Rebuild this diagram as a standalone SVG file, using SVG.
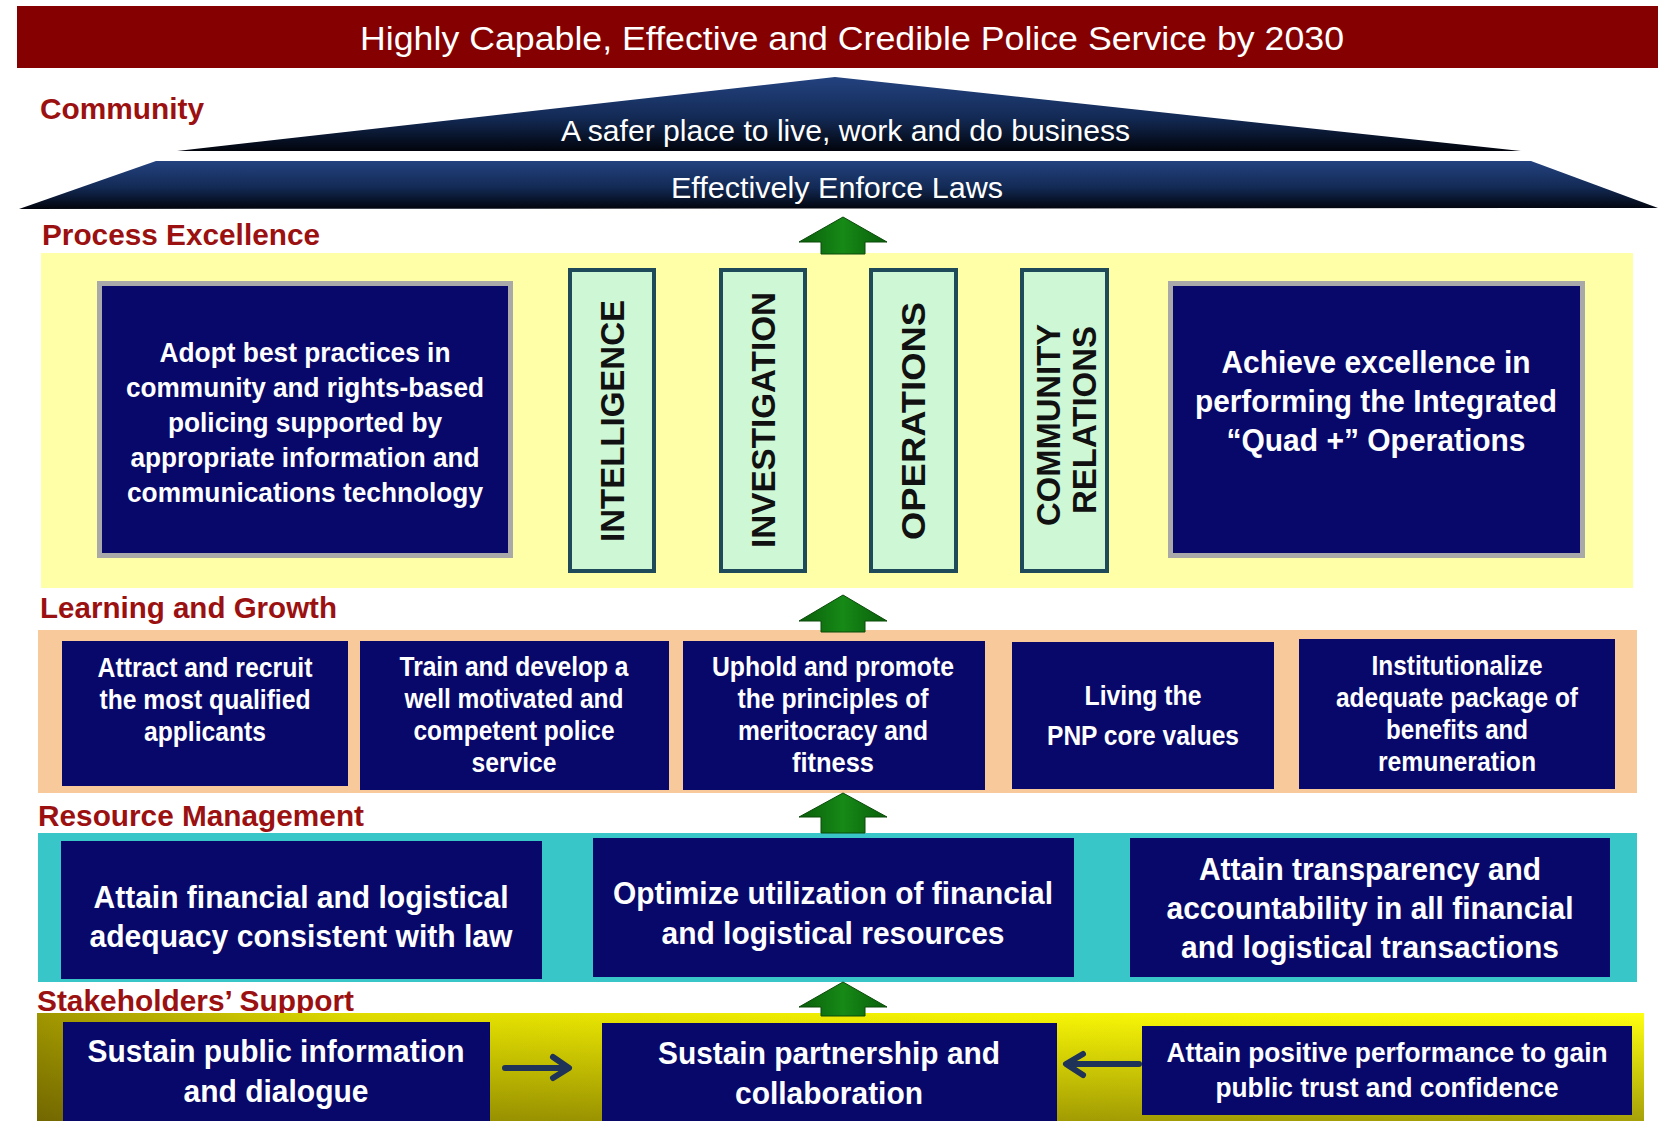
<svg xmlns="http://www.w3.org/2000/svg" width="1658" height="1121" viewBox="0 0 1658 1121">
<defs>
<style>
text{font-family:"Liberation Sans",Arial,sans-serif}
.lbl{font-size:30px;font-weight:bold;fill:#9b1111}
.nv{fill:#08086a}
.wt{fill:#ffffff;font-weight:bold;text-anchor:middle}
.rf{fill:#ffffff;font-size:30px}
.pl{fill:#cdf7d5;stroke:#1e4a5a;stroke-width:4}
.pt{fill:#111111;font-weight:bold;font-size:34px;text-anchor:middle}
.gb{fill:#08086a;stroke:#a9a9a9;stroke-width:5}
.ga{fill:url(#green);stroke:#0a4a0a;stroke-width:1}
.na{stroke:#1f3358;stroke-width:6;fill:none;stroke-linecap:round;stroke-linejoin:round}
</style>
<linearGradient id="roof" x1="0" y1="0" x2="0" y2="1">
<stop offset="0" stop-color="#23427f"/>
<stop offset="0.55" stop-color="#132a55"/>
<stop offset="1" stop-color="#01040c"/>
</linearGradient>
<linearGradient id="green" x1="0" y1="0" x2="1" y2="0">
<stop offset="0" stop-color="#0a5e0a"/>
<stop offset="0.5" stop-color="#168a16"/>
<stop offset="1" stop-color="#0a5e0a"/>
</linearGradient>
<linearGradient id="stkH" x1="0" y1="0" x2="1" y2="0">
<stop offset="0" stop-color="#a09600"/>
<stop offset="0.2" stop-color="#e0dc00"/>
<stop offset="0.6" stop-color="#f6f404"/>
<stop offset="1" stop-color="#ffff10"/>
</linearGradient>
<linearGradient id="stkV" x1="0" y1="0" x2="0" y2="1">
<stop offset="0" stop-color="#3a2e00" stop-opacity="0"/>
<stop offset="1" stop-color="#3a2e00" stop-opacity="0.45"/>
</linearGradient>
</defs>
<rect width="1658" height="1121" fill="#ffffff"/>

<g id="banner">
<rect x="17" y="6" width="1641" height="62" fill="#850000"/>
<text x="852" y="50" fill="#ffffff" font-size="33" text-anchor="middle" textLength="984" lengthAdjust="spacingAndGlyphs">Highly Capable, Effective and Credible Police Service by 2030</text>
</g>

<g id="community">
<text class="lbl" x="40" y="119" textLength="164" lengthAdjust="spacingAndGlyphs">Community</text>
<polygon points="177,151 835,77 1521,151" fill="url(#roof)"/>
<text class="rf" x="561" y="141" textLength="569" lengthAdjust="spacingAndGlyphs">A safer place to live, work and do business</text>
</g>

<g id="enforce">
<polygon points="19,209 156,161 1531,161 1658,208" fill="url(#roof)"/>
<text class="rf" x="671" y="198" textLength="332" lengthAdjust="spacingAndGlyphs">Effectively Enforce Laws</text>
</g>

<g id="process-excellence">
<text class="lbl" x="42" y="245" textLength="278" lengthAdjust="spacingAndGlyphs">Process Excellence</text>
<rect x="41" y="253" width="1592" height="335" fill="#ffffa8"/>
</g>

<g id="adopt-best-practices">
<rect class="gb" x="99.5" y="283.5" width="411" height="272"/>
<text class="wt" font-size="27" x="305" y="362" textLength="291" lengthAdjust="spacingAndGlyphs">Adopt best practices in</text>
<text class="wt" font-size="27" x="305" y="397" textLength="358" lengthAdjust="spacingAndGlyphs">community and rights-based</text>
<text class="wt" font-size="27" x="305" y="432" textLength="274" lengthAdjust="spacingAndGlyphs">policing supported by</text>
<text class="wt" font-size="27" x="305" y="467" textLength="349" lengthAdjust="spacingAndGlyphs">appropriate information and</text>
<text class="wt" font-size="27" x="305" y="502" textLength="356" lengthAdjust="spacingAndGlyphs">communications technology</text>
</g>

<g id="intelligence">
<rect class="pl" x="570" y="270" width="84" height="301"/>
<text class="pt" transform="translate(612,421) rotate(-90)" x="0" y="12" textLength="242" lengthAdjust="spacingAndGlyphs">INTELLIGENCE</text>
</g>
<g id="investigation">
<rect class="pl" x="721" y="270" width="84" height="301"/>
<text class="pt" transform="translate(763,420) rotate(-90)" x="0" y="12" textLength="256" lengthAdjust="spacingAndGlyphs">INVESTIGATION</text>
</g>
<g id="operations">
<rect class="pl" x="871" y="270" width="85" height="301"/>
<text class="pt" transform="translate(913,421) rotate(-90)" x="0" y="12" textLength="238" lengthAdjust="spacingAndGlyphs">OPERATIONS</text>
</g>
<g id="community-relations">
<rect class="pl" x="1022" y="270" width="85" height="301"/>
<text class="pt" transform="translate(1048,425) rotate(-90)" x="0" y="12" textLength="202" lengthAdjust="spacingAndGlyphs">COMMUNITY</text>
<text class="pt" transform="translate(1084,420) rotate(-90)" x="0" y="12" textLength="188" lengthAdjust="spacingAndGlyphs">RELATIONS</text>
</g>

<g id="achieve-excellence">
<rect class="gb" x="1170.5" y="283.5" width="412" height="272"/>
<text class="wt" font-size="32" x="1376" y="373" textLength="309" lengthAdjust="spacingAndGlyphs">Achieve excellence in</text>
<text class="wt" font-size="32" x="1376" y="412" textLength="362" lengthAdjust="spacingAndGlyphs">performing the Integrated</text>
<text class="wt" font-size="32" x="1376" y="451" textLength="299" lengthAdjust="spacingAndGlyphs">“Quad +” Operations</text>
</g>

<g id="learning-growth">
<text class="lbl" x="40" y="618" textLength="297" lengthAdjust="spacingAndGlyphs">Learning and Growth</text>
<rect x="38" y="630" width="1599" height="163" fill="#f8c99a"/>
</g>

<g id="attract-recruit">
<rect class="nv" x="62" y="641" width="286" height="145"/>
<text class="wt" font-size="27" x="205" y="677" textLength="215" lengthAdjust="spacingAndGlyphs">Attract and recruit</text>
<text class="wt" font-size="27" x="205" y="709" textLength="211" lengthAdjust="spacingAndGlyphs">the most qualified</text>
<text class="wt" font-size="27" x="205" y="741" textLength="122" lengthAdjust="spacingAndGlyphs">applicants</text>
</g>
<g id="train-develop">
<rect class="nv" x="360" y="641" width="309" height="149"/>
<text class="wt" font-size="27" x="514" y="676" textLength="229" lengthAdjust="spacingAndGlyphs">Train and develop a</text>
<text class="wt" font-size="27" x="514" y="708" textLength="219" lengthAdjust="spacingAndGlyphs">well motivated and</text>
<text class="wt" font-size="27" x="514" y="740" textLength="201" lengthAdjust="spacingAndGlyphs">competent police</text>
<text class="wt" font-size="27" x="514" y="772" textLength="85" lengthAdjust="spacingAndGlyphs">service</text>
</g>
<g id="uphold-promote">
<rect class="nv" x="683" y="641" width="302" height="149"/>
<text class="wt" font-size="27" x="833" y="676" textLength="242" lengthAdjust="spacingAndGlyphs">Uphold and promote</text>
<text class="wt" font-size="27" x="833" y="708" textLength="191" lengthAdjust="spacingAndGlyphs">the principles of</text>
<text class="wt" font-size="27" x="833" y="740" textLength="190" lengthAdjust="spacingAndGlyphs">meritocracy and</text>
<text class="wt" font-size="27" x="833" y="772" textLength="82" lengthAdjust="spacingAndGlyphs">fitness</text>
</g>
<g id="core-values">
<rect class="nv" x="1012" y="642" width="262" height="147"/>
<text class="wt" font-size="27" x="1143" y="705" textLength="117" lengthAdjust="spacingAndGlyphs">Living the</text>
<text class="wt" font-size="27" x="1143" y="745" textLength="192" lengthAdjust="spacingAndGlyphs">PNP core values</text>
</g>
<g id="benefits">
<rect class="nv" x="1299" y="639" width="316" height="150"/>
<text class="wt" font-size="27" x="1457" y="675" textLength="171" lengthAdjust="spacingAndGlyphs">Institutionalize</text>
<text class="wt" font-size="27" x="1457" y="707" textLength="242" lengthAdjust="spacingAndGlyphs">adequate package of</text>
<text class="wt" font-size="27" x="1457" y="739" textLength="142" lengthAdjust="spacingAndGlyphs">benefits and</text>
<text class="wt" font-size="27" x="1457" y="771" textLength="158" lengthAdjust="spacingAndGlyphs">remuneration</text>
</g>

<g id="resource-management">
<text class="lbl" x="38" y="826" textLength="326" lengthAdjust="spacingAndGlyphs">Resource Management</text>
<rect x="38" y="833" width="1599" height="149" fill="#38c6c8"/>
</g>
<g id="financial-adequacy">
<rect class="nv" x="61" y="841" width="481" height="138"/>
<text class="wt" font-size="32" x="301" y="908" textLength="415" lengthAdjust="spacingAndGlyphs">Attain financial and logistical</text>
<text class="wt" font-size="32" x="301" y="947" textLength="423" lengthAdjust="spacingAndGlyphs">adequacy consistent with law</text>
</g>
<g id="optimize-utilization">
<rect class="nv" x="593" y="838" width="481" height="139"/>
<text class="wt" font-size="32" x="833" y="904" textLength="440" lengthAdjust="spacingAndGlyphs">Optimize utilization of financial</text>
<text class="wt" font-size="32" x="833" y="944" textLength="343" lengthAdjust="spacingAndGlyphs">and logistical resources</text>
</g>
<g id="transparency">
<rect class="nv" x="1130" y="838" width="480" height="139"/>
<text class="wt" font-size="32" x="1370" y="880" textLength="342" lengthAdjust="spacingAndGlyphs">Attain transparency and</text>
<text class="wt" font-size="32" x="1370" y="919" textLength="407" lengthAdjust="spacingAndGlyphs">accountability in all financial</text>
<text class="wt" font-size="32" x="1370" y="958" textLength="378" lengthAdjust="spacingAndGlyphs">and logistical transactions</text>
</g>

<g id="stakeholders-support">
<text class="lbl" x="37" y="1011" textLength="317" lengthAdjust="spacingAndGlyphs">Stakeholders’ Support</text>
<rect x="37" y="1013" width="1607" height="108" fill="url(#stkH)"/>
<rect x="37" y="1013" width="1607" height="108" fill="url(#stkV)"/>
</g>
<g id="public-information">
<rect class="nv" x="63" y="1022" width="427" height="99"/>
<text class="wt" font-size="32" x="276" y="1062" textLength="377" lengthAdjust="spacingAndGlyphs">Sustain public information</text>
<text class="wt" font-size="32" x="276" y="1102" textLength="185" lengthAdjust="spacingAndGlyphs">and dialogue</text>
</g>
<g id="partnership">
<rect class="nv" x="602" y="1023" width="455" height="98"/>
<text class="wt" font-size="32" x="829" y="1064" textLength="342" lengthAdjust="spacingAndGlyphs">Sustain partnership and</text>
<text class="wt" font-size="32" x="829" y="1104" textLength="188" lengthAdjust="spacingAndGlyphs">collaboration</text>
</g>
<g id="positive-performance">
<rect class="nv" x="1142" y="1026" width="490" height="89"/>
<text class="wt" font-size="28" x="1387" y="1062" textLength="441" lengthAdjust="spacingAndGlyphs">Attain positive performance to gain</text>
<text class="wt" font-size="28" x="1387" y="1097" textLength="343" lengthAdjust="spacingAndGlyphs">public trust and confidence</text>
</g>

<g id="connectors">
<polygon class="ga" points="843,217 887,242 865,242 865,254 821,254 821,242 799,242"/>
<polygon class="ga" points="843,595 887,621 865,621 865,632 821,632 821,621 799,621"/>
<polygon class="ga" points="843,793 887,817 865,817 865,833 821,833 821,817 799,817"/>
<polygon class="ga" points="843,982 887,1007 865,1007 865,1016 821,1016 821,1007 799,1007"/>
<path class="na" d="M505,1068 H568 M553,1057 L569,1068 L553,1078"/>
<path class="na" d="M1139,1064 H1067 M1083,1054 L1066,1064 L1083,1075"/>
</g>
</svg>
